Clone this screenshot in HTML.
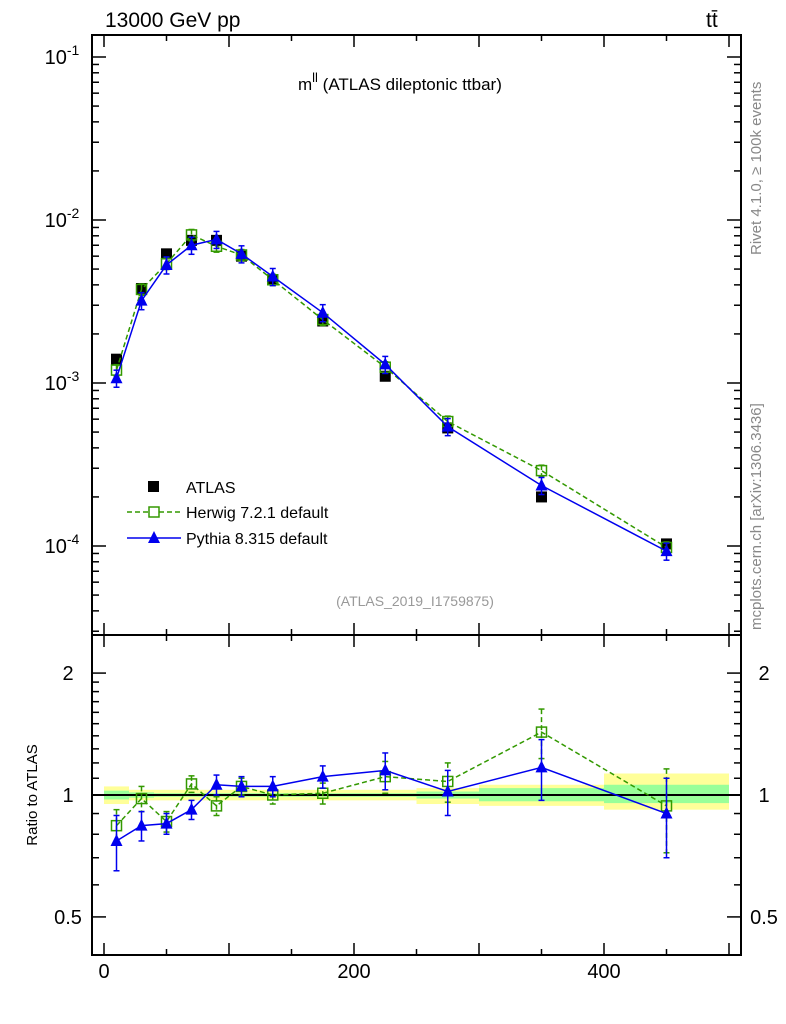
<!DOCTYPE html>
<html><head><meta charset="utf-8"><style>
body{margin:0;background:#fff;}
svg{display:block;font-family:"Liberation Sans",sans-serif;}
</style></head><body>
<svg id="c" width="786" height="1024"></svg>
<script>
const xCenters=[10,30,50,70,90,110,135,175,225,275,350,450];
const atlas=[1.4e-3,3.8e-3,6.2e-3,7.5e-3,7.5e-3,6.0e-3,4.3e-3,2.4e-3,1.1e-3,5.3e-4,2.0e-4,1.03e-4];
const herwig=[1.2e-3,3.75e-3,5.4e-3,8.1e-3,6.9e-3,6.1e-3,4.3e-3,2.45e-3,1.25e-3,5.8e-4,2.9e-4,9.8e-5];
const pythia=[1.07e-3,3.2e-3,5.3e-3,7.0e-3,7.6e-3,6.2e-3,4.5e-3,2.7e-3,1.3e-3,5.4e-4,2.35e-4,9.3e-5];
const herwigRatio=[0.84,0.98,0.86,1.065,0.94,1.05,1.0,1.01,1.11,1.08,1.43,0.94];
const herwigRatioErr=[0.08,0.07,0.05,0.05,0.05,0.05,0.05,0.06,0.1,0.12,0.2,0.22];
const pythiaRatio=[0.77,0.84,0.85,0.92,1.06,1.05,1.05,1.11,1.15,1.02,1.17,0.90];
const pythiaRatioErr=[0.12,0.07,0.05,0.05,0.06,0.06,0.06,0.07,0.12,0.13,0.2,0.2];
const binEdges=[0,20,40,60,80,100,120,150,200,250,300,400,500];
const bandYellowUp=[1.05,1.03,1.03,1.03,1.03,1.03,1.03,1.03,1.03,1.04,1.06,1.13];
const bandYellowDn=[0.95,0.97,0.97,0.97,0.97,0.97,0.97,0.97,0.97,0.95,0.94,0.92];
const bandGreenUp=[1.025,1.015,1.01,1.01,1.01,1.01,1.01,1.01,1.01,1.02,1.04,1.06];
const bandGreenDn=[0.975,0.985,0.99,0.99,0.99,0.99,0.99,0.99,0.99,0.98,0.965,0.955];
const xTicks=[0,200,400];
const yMainTicks=[-1,-2,-3,-4];
const yRatioTicks=[0.5,1,2];

const svg=document.getElementById('c');
const NS='http://www.w3.org/2000/svg';
function el(t,a,p){const e=document.createElementNS(NS,t);for(const k in a)e.setAttribute(k,a[k]);(p||svg).appendChild(e);return e;}
const L=92,R=741,T=35,M=635,B=955;
const X=v=>104+(v)*1.25;
const Y=v=>57-(Math.log10(v)+1)*163;
const YR=v=>795-Math.log10(v)*405;

const bands=el('g',{});


for(let i=0;i<binEdges.length-1;i++){
 const x0=X(binEdges[i]),x1=X(binEdges[i+1]);
 const r1=el('rect',{x:x0,y:YR(bandYellowUp[i]),width:x1-x0,height:YR(bandYellowDn[i])-YR(bandYellowUp[i]),fill:'#ffff99'},bands);
 
 
 const r2=el('rect',{x:x0,y:YR(bandGreenUp[i]),width:x1-x0,height:YR(bandGreenDn[i])-YR(bandGreenUp[i]),fill:'#99ff99'},bands);
 
 
}
const one=el('line',{x1:L,x2:R,y1:YR(1),y2:YR(1),stroke:'#000','stroke-width':2});



const f1=el('rect',{x:L,y:T,width:R-L,height:M-T,fill:'none',stroke:'#000','stroke-width':2});


const f2=el('rect',{x:L,y:M,width:R-L,height:B-M,fill:'none',stroke:'#000','stroke-width':2});



for(let v=0;v<=500;v+=50){
 const big=v%100===0;
 for(const [yb,dir] of [[M,-1],[B,-1],[T,1],[M,1]]){
  el('line',{x1:X(v),x2:X(v),y1:yb,y2:yb+dir*(big?12:6),stroke:'#000','stroke-width':1.5});
 }
}
xTicks.forEach(v=>{const t=el('text',{x:X(v),y:978,'font-size':20,'text-anchor':'middle'});t.textContent=v;
 
 });
for(let d=-5;d<=-1;d++){for(let m=1;m<10;m++){const v=m*Math.pow(10,d);const y=Y(v);if(y<T||y>M)continue;
 const w=m===1?14:7;
 el('line',{x1:L,x2:L+w,y1:y,y2:y,stroke:'#000','stroke-width':1.5});
 el('line',{x1:R,x2:R-w,y1:y,y2:y,stroke:'#000','stroke-width':1.5});}}
yMainTicks.forEach(d=>{const t=el('text',{x:62,y:Y(Math.pow(10,d))+7,'font-size':20,'text-anchor':'middle'});
 t.innerHTML='10<tspan dy="-9" font-size="14">'+d+'</tspan>';
 
 });
[0.5,0.6,0.7,0.8,0.9,1,1.1,1.2,1.3,1.4,1.5,1.6,1.7,1.8,1.9,2].forEach(v=>{const y=YR(v);const w=(v===0.5||v===1||v===2)?14:7;
 el('line',{x1:L,x2:L+w,y1:y,y2:y,stroke:'#000','stroke-width':1.5});
 el('line',{x1:R,x2:R-w,y1:y,y2:y,stroke:'#000','stroke-width':1.5});});
yRatioTicks.forEach(v=>{for(const x of [68,764]){const t=el('text',{x:x,y:YR(v)+7,'font-size':20,'text-anchor':'middle'});t.textContent=v;
 
 }});

function series(vals,yf,col,dash,marker,name,errs){
 const g=el('g',{});
 
 
 if(col!=='#000'){el('polyline',{points:xCenters.map((x,i)=>X(x)+','+yf(vals[i])).join(' '),fill:'none',stroke:col,'stroke-width':1.5,'stroke-dasharray':dash},g);}
 xCenters.forEach((x,i)=>{const cx=X(x),cy=yf(vals[i]);
  if(errs){const e=errs[i];const y1=yf(vals[i]+e),y2=yf(Math.max(vals[i]-e,vals[i]*0.05));
   el('line',{x1:cx,x2:cx,y1:y1,y2:y2,stroke:col,'stroke-width':1.5,'stroke-dasharray':dash},g);
   el('line',{x1:cx-3,x2:cx+3,y1:y1,y2:y1,stroke:col,'stroke-width':1.5},g);
   el('line',{x1:cx-3,x2:cx+3,y1:y2,y2:y2,stroke:col,'stroke-width':1.5},g);}
  let m;
  if(marker==='sq') m=el('rect',{x:cx-5.5,y:cy-5.5,width:11,height:11,fill:'#000'},g);
  else if(marker==='osq') m=el('rect',{x:cx-5,y:cy-5,width:10,height:10,fill:'none',stroke:col,'stroke-width':1.5},g);
  else m=el('polygon',{points:`${cx},${cy-7} ${cx-6},${cy+5} ${cx+6},${cy+5}`,fill:col},g);
  
  
 });
}
const mainErrH=herwig.map(v=>v*0.08), mainErrP=pythia.map(v=>v*0.12);
series(atlas,Y,'#000','','sq','atlas-data');
series(herwig,Y,'#339900','5,3','osq','herwig-series',mainErrH);
series(pythia,Y,'#0000ee','','tri','pythia-series',mainErrP);
series(herwigRatio,YR,'#339900','5,3','osq','herwig-ratio',herwigRatioErr);
series(pythiaRatio,YR,'#0000ee','','tri','pythia-ratio',pythiaRatioErr);

function txt(x,y,s,attrs,name){const t=el('text',Object.assign({x:x,y:y},attrs));t.innerHTML=s;return t;}
txt(105,27,'13000 GeV pp',{'font-size':21},'energy-label');
txt(706,27,'tt̄',{'font-size':21},'process-label');
txt(298,90,'m<tspan dy="-8" font-size="13">ll</tspan><tspan dy="8"> (ATLAS dileptonic ttbar)</tspan>',{'font-size':17},'plot-title');
txt(415,606,'(ATLAS_2019_I1759875)',{'font-size':14,fill:'#999','text-anchor':'middle'},'analysis-id');
txt(0,0,'Rivet 4.1.0, ≥ 100k events',{'font-size':15,fill:'#888',transform:'translate(761,255) rotate(-90)'},'rivet-label');
txt(0,0,'mcplots.cern.ch [arXiv:1306.3436]',{'font-size':15,fill:'#888',transform:'translate(761,630) rotate(-90)'},'mcplots-label');
txt(0,0,'Ratio to ATLAS',{'font-size':15,'text-anchor':'middle',transform:'translate(37,795) rotate(-90)'},'ratio-axis-title');
el('rect',{x:148,y:481,width:11,height:11,fill:'#000'});
txt(186,493,'ATLAS',{'font-size':16},'legend-atlas');
el('line',{x1:127,x2:181,y1:512,y2:512,stroke:'#339900','stroke-width':1.5,'stroke-dasharray':'5,3'});
el('rect',{x:149,y:507,width:10,height:10,fill:'#fff',stroke:'#339900','stroke-width':1.5});
txt(186,518,'Herwig 7.2.1 default',{'font-size':16},'legend-herwig');
el('line',{x1:127,x2:181,y1:538,y2:538,stroke:'#0000ee','stroke-width':1.5});
el('polygon',{points:'154,531 148,543 160,543',fill:'#0000ee'});
txt(186,544,'Pythia 8.315 default',{'font-size':16},'legend-pythia');
</script>
</body></html>
